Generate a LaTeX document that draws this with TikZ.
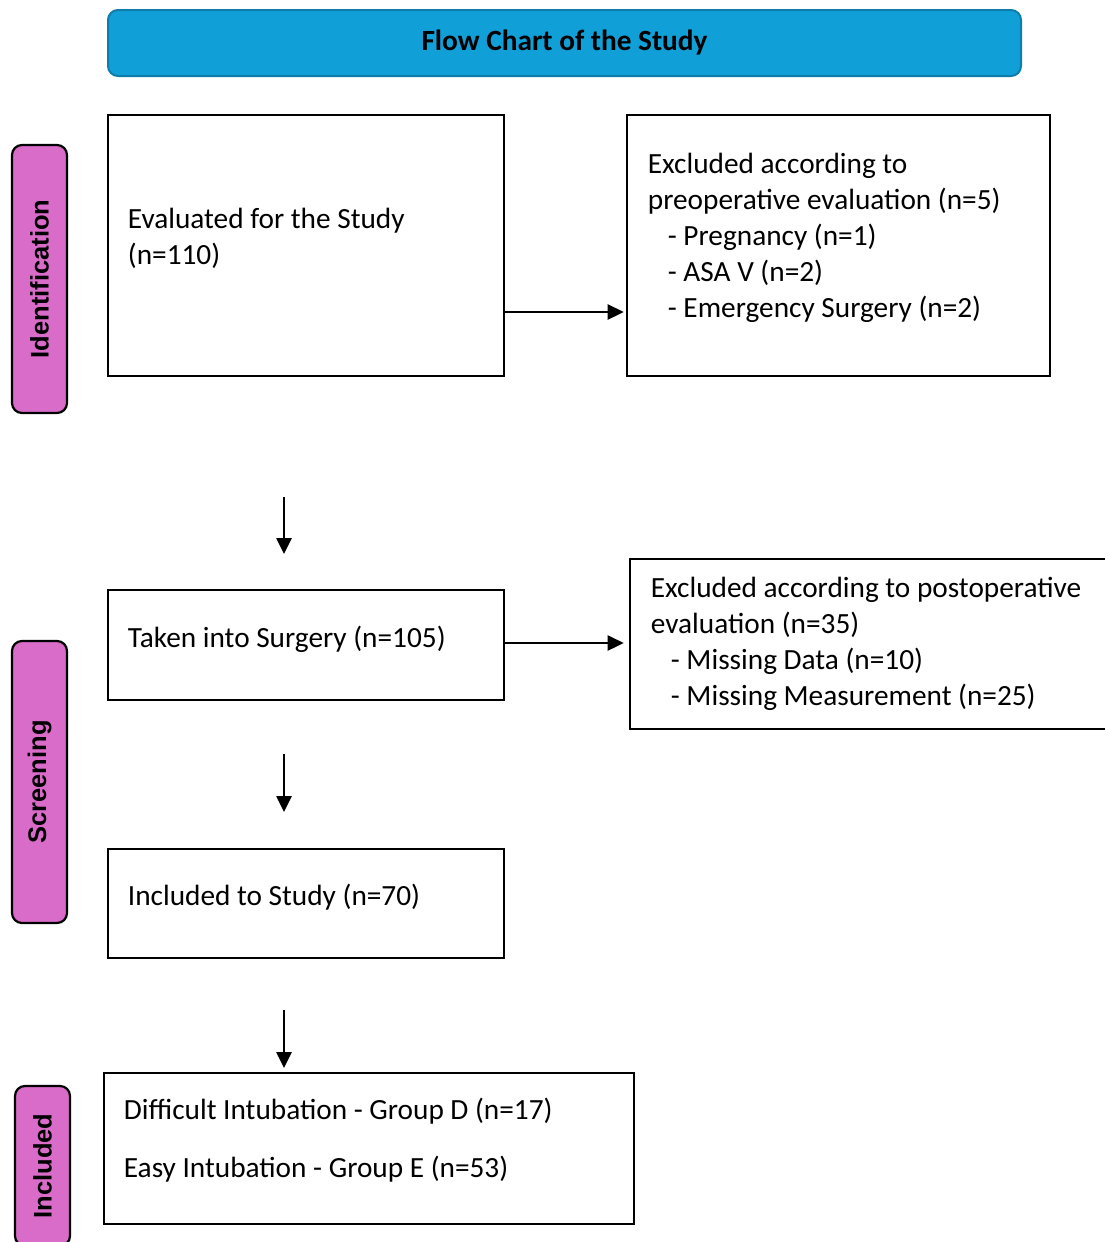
\documentclass[tikz,border=0pt]{standalone}
\usepackage{fontspec}
\setmainfont{Carlito}
\newfontfamily\sidefont{Liberation Sans}
\usetikzlibrary{
  arrows.meta,
  calc
}
\definecolor{titleblue}{RGB}{16,159,215}
\definecolor{titleedge}{RGB}{14,125,170}
\definecolor{sidepink}{RGB}{217,108,201}
\tikzset{
  box/.style={draw, line width=2.6pt, inner sep=0pt},
  txt/.style={anchor=west, align=left, inner sep=0pt, font=\fontsize{29.3}{36}\selectfont},
  side/.style={draw, fill=sidepink, line width=2.2pt, rounded corners=10pt, rotate=90,
    minimum height=55pt, inner sep=0pt, font=\sidefont\bfseries\fontsize{25.5}{30}\selectfont},
  arr/.style={-{Triangle[length=16pt,width=15pt]}, line width=2.6pt}
}

\begin{document}
\begin{tikzpicture}[x=1pt,y=-1pt]
        \useasboundingbox (0,0) rectangle (1105,1242);
        % title
        \node[draw=titleedge, fill=titleblue, line width=2pt, rounded corners=10pt,
          minimum width=913pt, minimum height=66pt, font=\bfseries\fontsize{29.3}{34}\selectfont]
          (title) at (564.5,43) {Flow Chart of the Study};
        % side labels
        \node[side, minimum width=268pt] (ident) at (39.5,279) {Identification};
        \node[side, minimum width=282pt] (screen) at (39.5,782) {Screening};
        \node[side, minimum width=160pt] (incl) at (42.5,1166) {Included};
        % boxes
        \node[box, minimum width=396pt, minimum height=261pt] (eval) at (306,245.5) {};
        \node[box, minimum width=423pt, minimum height=261pt] (preexcl) at (838.5,245.5) {};
        \node[box, minimum width=396pt, minimum height=110pt] (surg) at (306,645) {};
        \node[box, minimum width=480pt, minimum height=170pt] (postexcl) at (870,644) {};
        \node[box, minimum width=396pt, minimum height=109pt] (study) at (306,903.5) {};
        \node[box, minimum width=530pt, minimum height=151pt] (groups) at (369,1148.5) {};
        % texts
        \node[txt] (evaltxt) at ([xshift=21pt, yshift=7pt]eval.west)
          {Evaluated for the Study\\(n=110)};
        \node[txt] (preexcltxt) at ([xshift=22pt, yshift=8pt]preexcl.west)
          {Excluded according to\\preoperative evaluation (n=5)\\
           \hspace*{20pt}- Pregnancy (n=1)\\
           \hspace*{20pt}- ASA V (n=2)\\
           \hspace*{20pt}- Emergency Surgery (n=2)};
        \node[txt] (surgtxt) at ([xshift=21pt, yshift=6pt]surg.west)
          {Taken into Surgery (n=105)};
        \node[txt] (postexcltxt) at ([xshift=22pt, yshift=0pt]postexcl.west)
          {Excluded according to postoperative\\evaluation (n=35)\\
           \hspace*{20pt}- Missing Data (n=10)\\
           \hspace*{20pt}- Missing Measurement (n=25)};
        \node[txt] (studytxt) at ([xshift=21pt, yshift=6.5pt]study.west)
          {Included to Study (n=70)};
        \node[txt] (groupstxt) at ([xshift=21pt, yshift=8pt]groups.west)
          {Difficult Intubation - Group D (n=17)\\[22pt]
           Easy Intubation - Group E (n=53)};
        % arrows
        \coordinate (a1) at (0,312);
        \draw[arr] (eval.east |- a1) -- ([xshift=-2pt]preexcl.west |- a1);
        \draw[arr] (surg.east |- 0,643) -- ([xshift=-5pt]postexcl.west |- 0,643);
        \coordinate (d1s) at (284,497);
        \coordinate (d1e) at (284,554);
        \coordinate (d2s) at (284,754);
        \coordinate (d2e) at (284,812);
        \coordinate (d3s) at (284,1010);
        \coordinate (d3e) at (284,1068);
        \draw[arr] (d1s) -- (d1e);
        \draw[arr] (d2s) -- (d2e);
        \draw[arr] (d3s) -- (d3e);
\end{tikzpicture}
\end{document}
